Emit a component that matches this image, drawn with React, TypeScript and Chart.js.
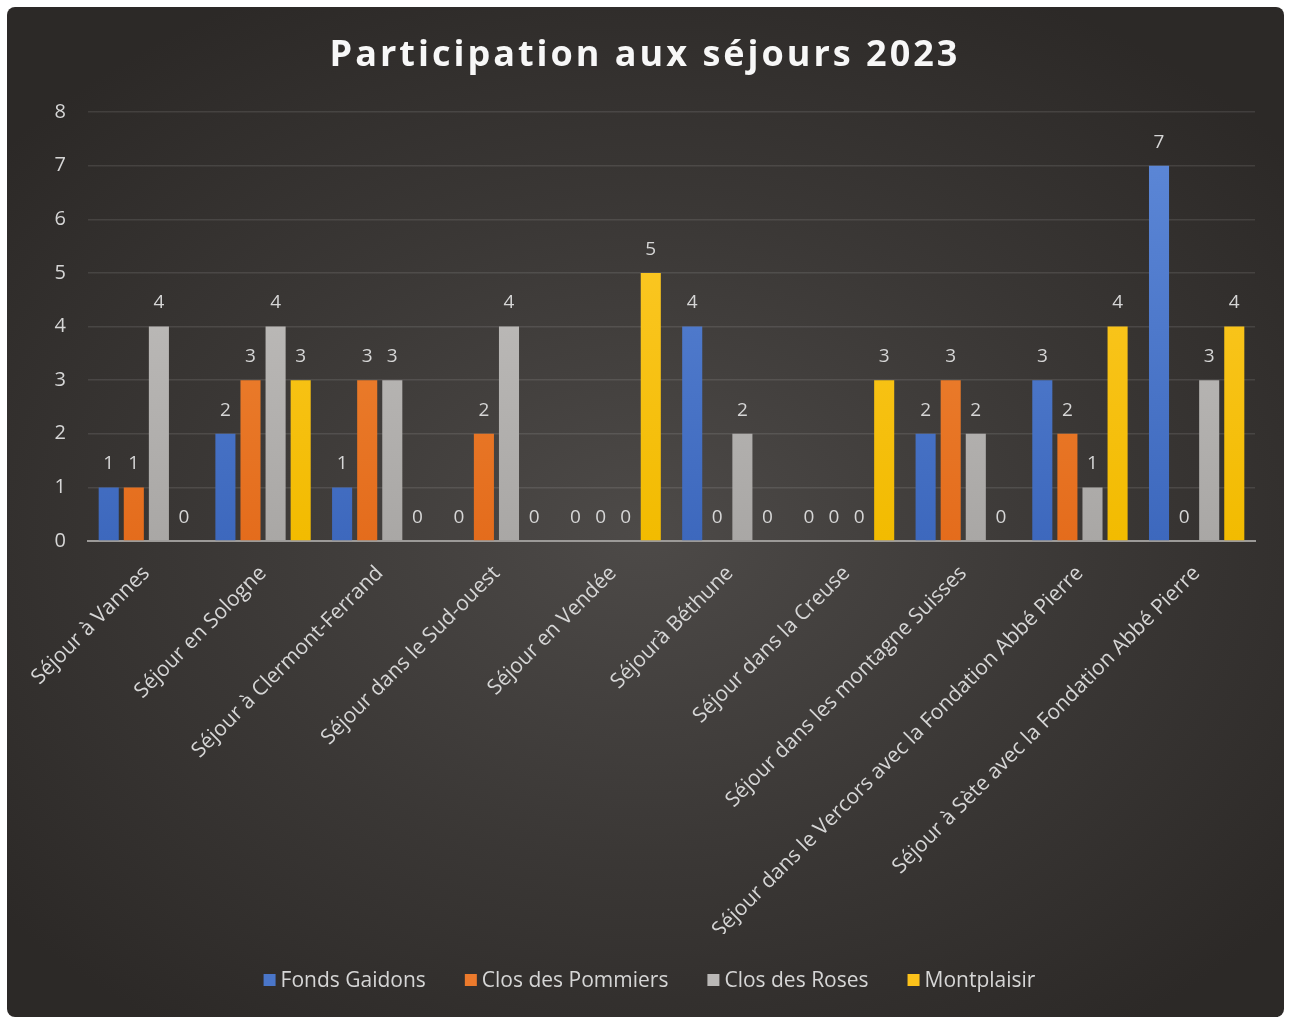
import React, { useEffect, useRef } from "react";
import { Chart, registerables } from "chart.js";

Chart.register(...registerables);

const categories = [
  "Séjour à Vannes",
  "Séjour en Sologne",
  "Séjour à Clermont-Ferrand",
  "Séjour dans le Sud-ouest",
  "Séjour en Vendée",
  "Séjourà Béthune",
  "Séjour dans la Creuse",
  "Séjour dans les montagne Suisses",
  "Séjour dans le Vercors avec la Fondation Abbé Pierre",
  "Séjour à Sète avec la Fondation Abbé Pierre",
];
const fondsGaidons = [1, 2, 1, 0, 0, 4, 0, 2, 3, 7];
const closPommiers = [1, 3, 3, 2, 0, 0, 0, 3, 2, 0];
const closRoses = [4, 4, 3, 4, 0, 2, 0, 2, 1, 3];
const montplaisir = [0, 3, 0, 0, 5, 0, 3, 0, 4, 4];
const seriesNames = ["Fonds Gaidons", "Clos des Pommiers", "Clos des Roses", "Montplaisir"];
const yTicks = [0, 1, 2, 3, 4, 5, 6, 7, 8];
const titleText = "Participation aux séjours 2023";

const FONT = "'Open Sans', 'DejaVu Sans', sans-serif";
const TEXT = "#d6d6d6";

const palette = [
  { top: "#5f8ad9", bottom: "#3d68bd", solid: "#4a76c9" },
  { top: "#f2903f", bottom: "#e46c1c", solid: "#ec7a2c" },
  { top: "#c9c7c5", bottom: "#a9a7a5", solid: "#bab8b6" },
  { top: "#ffcc33", bottom: "#f2bb00", solid: "#fcc21a" },
];

function grad(idx: number) {
  return (ctx: any) => {
    const { chart } = ctx;
    const area = chart.chartArea;
    if (!area) return palette[idx].solid;
    const g = chart.ctx.createLinearGradient(0, area.top, 0, area.bottom);
    g.addColorStop(0, palette[idx].top);
    g.addColorStop(1, palette[idx].bottom);
    return g;
  };
}

const valueLabels = {
  id: "valueLabels",
  afterDatasetsDraw(chart: any) {
    const ctx = chart.ctx;
    ctx.save();
    ctx.fillStyle = TEXT;
    ctx.font = `19px ${FONT}`;
    ctx.textAlign = "center";
    ctx.textBaseline = "bottom";
    chart.data.datasets.forEach((ds: any, i: number) => {
      const meta = chart.getDatasetMeta(i);
      meta.data.forEach((el: any, j: number) => {
        ctx.fillText(String(ds.data[j]), el.x, el.y - 14);
      });
    });
    ctx.restore();
  },
};

const spacedTitle = {
  id: "spacedTitle",
  afterDraw(chart: any) {
    const ctx = chart.ctx;
    const tb = chart.titleBlock;
    if (!tb) return;
    ctx.save();
    ctx.fillStyle = "#f7f7f7";
    ctx.font = `bold 36px ${FONT}`;
    (ctx as any).letterSpacing = "3px";
    ctx.textAlign = "center";
    ctx.textBaseline = "middle";
    const cx = chart.width / 2 - 0.5;
    const cy = tb.top + tb.height / 2 - 3.5;
    ctx.fillText(titleText, cx, cy);
    ctx.restore();
  },
};

// Custom bottom legend (tight box/text gap like the original)
const LEG_BOX = 12;
const LEG_GAP = 5;
const LEG_SPACING = 39;
const bottomLegend = {
  id: "bottomLegend",
  afterDraw(chart: any) {
    const ctx = chart.ctx;
    ctx.save();
    ctx.font = `21px ${FONT}`;
    const widths = seriesNames.map((n) => ctx.measureText(n).width);
    const total =
      widths.reduce((a, w) => a + LEG_BOX + LEG_GAP + w, 0) +
      LEG_SPACING * (seriesNames.length - 1);
    let x = chart.width / 2 + 4 - total / 2;
    const cy = chart.height - 37;
    ctx.textBaseline = "middle";
    ctx.textAlign = "left";
    seriesNames.forEach((n, i) => {
      ctx.fillStyle = palette[i].solid;
      ctx.fillRect(x, cy - LEG_BOX / 2, LEG_BOX, LEG_BOX);
      ctx.fillStyle = TEXT;
      ctx.fillText(n, x + LEG_BOX + LEG_GAP, cy + 1);
      x += LEG_BOX + LEG_GAP + widths[i] + LEG_SPACING;
    });
    ctx.restore();
  },
};

export default function App() {
  const ref = useRef<HTMLCanvasElement | null>(null);

  useEffect(() => {
    if (!ref.current) return;
    const series = [fondsGaidons, closPommiers, closRoses, montplaisir];
    const chart = new Chart(ref.current, {
      type: "bar",
      data: {
        labels: categories,
        datasets: series.map((d, i) => ({
          label: seriesNames[i],
          data: d,
          backgroundColor: grad(i),
          borderWidth: 0,
          categoryPercentage: 0.86,
          barPercentage: 0.8,
        })),
      },
      options: {
        animation: false,
        responsive: true,
        maintainAspectRatio: false,
        layout: { padding: { left: 0, right: 29, top: 0, bottom: 83 } },
        plugins: {
          title: {
            display: true,
            text: titleText,
            color: "rgba(0,0,0,0)",
            font: { family: FONT, size: 36, weight: "bold" },
            padding: { top: 25.4, bottom: 36.4 },
          },
          legend: { display: false },
          tooltip: { enabled: false },
        },
        scales: {
          x: {
            grid: { display: false, drawTicks: false },
            border: { display: true, color: "#9c9a98", width: 2 },
            ticks: {
              color: TEXT,
              font: { family: FONT, size: 21 },
              minRotation: 45,
              maxRotation: 45,
              autoSkip: false,
              padding: 20,
            },
            afterFit: (s: any) => {
              s.height = 393;
            },
          },
          y: {
            min: 0,
            max: 8,
            afterBuildTicks: (s: any) => {
              s.ticks = yTicks.map((v) => ({ value: v }));
            },
            grid: {
              color: "rgba(255,255,255,0.10)",
              lineWidth: 1.5,
              drawTicks: false,
            },
            border: { display: false },
            ticks: {
              color: TEXT,
              font: { family: FONT, size: 20 },
              padding: 22,
            },
            afterFit: (s: any) => {
              s.width = 81;
            },
          },
        },
      },
      plugins: [valueLabels, spacedTitle, bottomLegend],
    });
    return () => chart.destroy();
  }, []);

  return (
    <div
      style={{
        position: "fixed",
        left: 7,
        top: 7,
        width: 1277,
        height: 1010,
        borderRadius: 8,
        overflow: "hidden",
        background:
          "radial-gradient(ellipse 65% 60% at 50% 52%, #4d4a48 0%, #3a3735 55%, #2c2927 100%)",
      }}
    >
      <canvas ref={ref} />
    </div>
  );
}
